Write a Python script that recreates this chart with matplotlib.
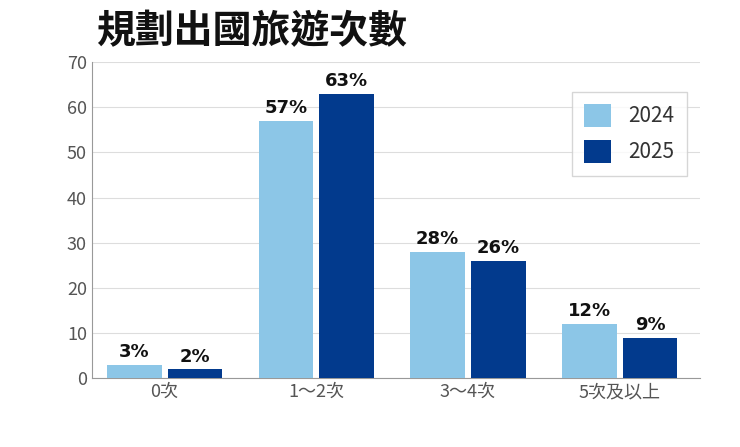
import matplotlib
matplotlib.use("Agg")
import matplotlib.pyplot as plt
import numpy as np

plt.rcParams['font.family'] = ['Noto Sans CJK TC', 'DejaVu Sans']

categories = ['0次', '1～2次', '3～4次', '5次及以上']
v2024 = [3, 57, 28, 12]
v2025 = [2, 63, 26, 9]
labels2024 = ['3%', '57%', '28%', '12%']
labels2025 = ['2%', '63%', '26%', '9%']

c1, c2 = '#8CC6E7', '#023A8D'
fig = plt.figure(figsize=(7.4, 4.47), dpi=100)
ax = fig.add_axes([0.124, 0.154, 0.822, 0.707])
x = np.arange(len(categories))
w = 0.36
b1 = ax.bar(x - 0.2, v2024, w, color=c1, label='2024', zorder=3)
b2 = ax.bar(x + 0.2, v2025, w, color=c2, label='2025', zorder=3)
for bars, labs in ((b1, labels2024), (b2, labels2025)):
    for r, l in zip(bars, labs):
        ax.text(r.get_x() + r.get_width()/2, r.get_height() + 0.8, l,
                ha='center', va='bottom', fontsize=13, fontweight='bold', color='#111111',
                family=['DejaVu Sans'])
ax.set_xlim(-0.48, 3.53)
ax.set_ylim(0, 70)
ax.set_yticks(range(0, 71, 10))
ax.set_xticks(x)
ax.set_xticklabels(categories)
ax.tick_params(axis='both', colors='#555555', labelsize=13, length=0)
ax.grid(axis='y', color='#dddddd', linewidth=0.8, zorder=0)
for s in ['top', 'right']:
    ax.spines[s].set_visible(False)
for s in ['left', 'bottom']:
    ax.spines[s].set_color('#999999')
leg = ax.legend(loc='upper right', bbox_to_anchor=(0.995, 0.94), fontsize=15,
                frameon=True, fancybox=False, edgecolor='#cccccc',
                handlelength=1.3, handleheight=1.3, borderpad=0.6, labelspacing=0.6)
for t in leg.get_texts():
    t.set_color('#333333')
fig.text(0.13, 0.93, '規劃出國旅遊次數', fontsize=28, fontweight='bold', color='#111111', va='center')
fig.savefig('out.png', dpi=100)
